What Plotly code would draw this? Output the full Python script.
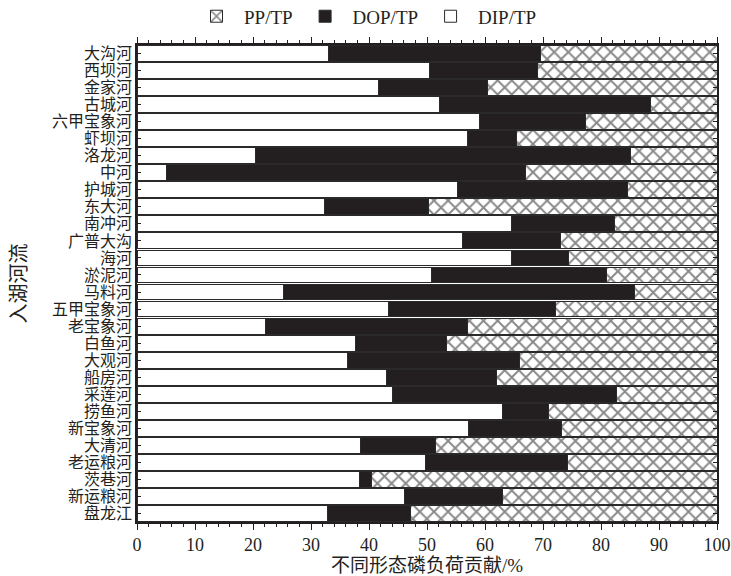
import plotly.graph_objects as go

rivers = ["大沟河", "西坝河", "金家河", "古城河", "六甲宝象河", "虾坝河", "洛龙河", "中河",
          "护城河", "东大河", "南冲河", "广普大沟", "海河", "淤泥河", "马料河", "五甲宝象河",
          "老宝象河", "白鱼河", "大观河", "船房河", "采莲河", "捞鱼河", "新宝象河", "大清河",
          "老运粮河", "茨巷河", "新运粮河", "盘龙江"]

dip = [33.1, 50.5, 41.6, 52.1, 59.0, 57.0, 20.4, 5.1, 55.2, 32.4, 64.5, 56.2, 64.6, 50.7,
       25.3, 43.4, 22.1, 37.6, 36.3, 43.0, 44.1, 63.0, 57.1, 38.5, 49.7, 38.3, 46.2, 32.8]
dip_dop = [69.6, 69.0, 60.5, 88.6, 77.4, 65.4, 85.0, 66.9, 84.6, 50.2, 82.3, 73.1, 74.4, 81.0,
           85.8, 72.1, 56.9, 53.4, 66.0, 62.0, 82.7, 71.0, 73.2, 51.5, 74.2, 40.4, 63.1, 47.1]

dop = [round(t - d, 1) for t, d in zip(dip_dop, dip)]
pp = [round(100 - t, 1) for t in dip_dop]

FONT = "Liberation Serif, Noto Sans CJK SC, serif"
line = dict(color="#2a2a2a", width=1)

fig = go.Figure()
fig.add_trace(go.Bar(y=rivers, x=dip, name="DIP/TP", orientation="h",
                     marker=dict(color="white", line=line)))
fig.add_trace(go.Bar(y=rivers, x=dop, name="DOP/TP", orientation="h",
                     marker=dict(color="#231f20", line=line)))
fig.add_trace(go.Bar(y=rivers, x=pp, name="PP/TP", orientation="h",
                     marker=dict(color="white", line=line,
                                 pattern=dict(shape="x", fgcolor="#111111", bgcolor="white",
                                              size=10, solidity=0.35))))

fig.update_layout(
    barmode="stack",
    bargap=0.07,
    width=731, height=576,
    margin=dict(l=137, r=14, t=45, b=54, autoexpand=False),
    paper_bgcolor="white", plot_bgcolor="white",
    font=dict(family=FONT, color="#231f20", size=18),
    showlegend=True,
    legend=dict(orientation="h", xref="container", x=0.5, xanchor="center",
                y=1.06, yanchor="middle",
                traceorder="reversed", font=dict(size=19), itemwidth=45,
                bgcolor="rgba(0,0,0,0)"),
    xaxis=dict(range=[0, 100], tickvals=list(range(0, 101, 10)), automargin=False,
               ticklabeloverflow="allow",
               ticks="outside", ticklen=6, tickwidth=1, tickcolor="#231f20",
               minor=dict(dtick=2, ticks="outside", ticklen=3, tickcolor="#231f20"),
               showline=True, linecolor="#231f20", linewidth=1.5, mirror="allticks",
               showgrid=False, zeroline=False, tickfont=dict(size=18),
               title=dict(text="不同形态磷负荷贡献/%", font=dict(size=19), standoff=3)),
    yaxis=dict(autorange="reversed", ticks="inside", ticklen=4, tickcolor="#231f20",
               tickmode="array", tickvals=rivers, ticktext=rivers, automargin=False,
               ticklabeloverflow="allow",
               showline=True, linecolor="#231f20", linewidth=1.5, mirror="allticks",
               showgrid=False, tickfont=dict(size=16),
               title=dict(text="入湖河流", font=dict(size=20), standoff=20)),
)

fig.write_html("out.html", config={"displayModeBar": False},
               post_script="document.body.style.margin='0';document.body.style.overflow='hidden';")
